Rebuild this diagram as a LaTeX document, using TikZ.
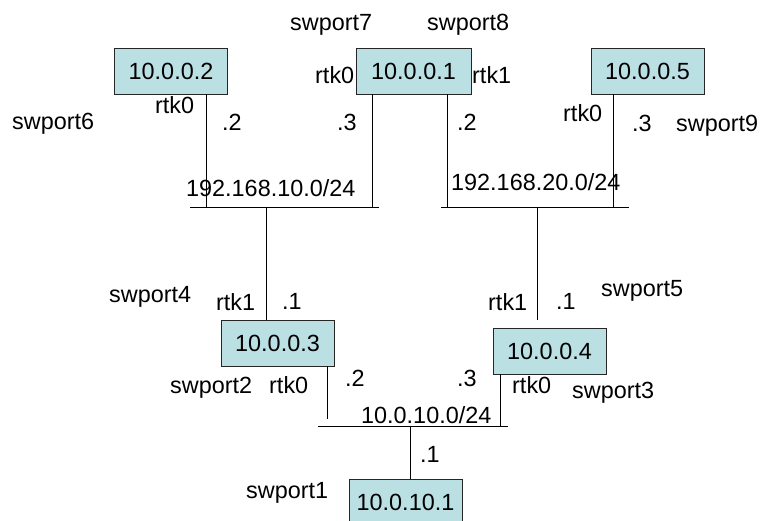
\documentclass[tikz,border=0pt]{standalone}
\usepackage{fontspec}
\setmainfont{Liberation Sans}
\begin{document}
\begin{tikzpicture}[x=1pt,y=-1pt,
  lbl/.style={anchor=base west,inner sep=0pt},
  hostbox/.style={draw=black!85,line width=0.9pt,fill=hostfill,inner sep=0pt,
    minimum width=113pt,minimum height=46pt},
  wire/.style={line width=0.9pt,black}]
\definecolor{hostfill}{RGB}{187,224,227}
\useasboundingbox (0,0) rectangle (763,521);
\clip (0,0) rectangle (763,521);
\fontsize{23.4}{28}\selectfont

% bus coordinates
\coordinate (busAL) at (190,207);
\coordinate (busAR) at (379,207);
\coordinate (busBL) at (441,207);
\coordinate (busBR) at (629,207);
\coordinate (busCL) at (318,426);
\coordinate (busCR) at (508,426);
% attachment x positions
\coordinate (xa) at (206,0);
\coordinate (xb) at (372,0);
\coordinate (xc) at (266,0);
\coordinate (xd) at (447,0);
\coordinate (xe) at (613,0);
\coordinate (xf) at (537,0);
\coordinate (xg) at (327,0);
\coordinate (xh) at (500,0);
\coordinate (xi) at (410,0);
\coordinate (stubB) at (537,320);
\coordinate (stubC) at (327,419);

% hosts
\node[hostbox] (h2) at (171,71) {10.0.0.2};
\node[hostbox,minimum width=115pt] (h1) at (413.5,71) {10.0.0.1};
\node[hostbox] (h5) at (647.5,71) {10.0.0.5};
\node[hostbox] (h3) at (277.5,343) {10.0.0.3};
\node[hostbox] (h4) at (549.5,351) {10.0.0.4};
\node[hostbox] (h10) at (405.5,502) {10.0.10.1};

% buses
\draw[wire] (busAL) -- (busAR);
\draw[wire] (busBL) -- (busBR);
\draw[wire] (busCL) -- (busCR);

% links
\draw[wire] (h2.south -| xa) -- (xa |- busAL);
\draw[wire] (h1.south -| xb) -- (xb |- busAL);
\draw[wire] (xc |- busAL) -- (h3.north -| xc);
\draw[wire] (h1.south -| xd) -- (xd |- busBL);
\draw[wire] (h5.south -| xe) -- (xe |- busBL);
\draw[wire] (xf |- busBL) -- (stubB);
\draw[wire] (h3.south -| xg) -- (stubC);
\draw[wire] (h4.south -| xh) -- (xh |- busCL);
\draw[wire] (xi |- busCL) -- (h10.north -| xi);

% labels
\node[lbl] (sw7) at (290,31) {swport7};
\node[lbl] (sw8) at (427,31) {swport8};
\node[lbl] (rA) at (315,84) {rtk0};
\node[lbl] (rB) at (472,84) {rtk1};
\node[lbl] (rC) at (155,114) {rtk0};
\node[lbl] (dA) at (222,131) {.2};
\node[lbl] (dB) at (337,131) {.3};
\node[lbl] (n1) at (186,197) {192.168.10.0/24};
\node[lbl] (dC) at (457,131) {.2};
\node[lbl] (rD) at (563,122) {rtk0};
\node[lbl] (dD) at (632,132) {.3};
\node[lbl] (sw9) at (676,132) {swport9};
\node[lbl] (n2) at (451,191) {192.168.20.0/24};
\node[lbl] (sw6) at (12,130) {swport6};
\node[lbl] (sw4) at (109,303) {swport4};
\node[lbl] (rE) at (216,311) {rtk1};
\node[lbl] (dE) at (282,310) {.1};
\node[lbl] (rF) at (488,311) {rtk1};
\node[lbl] (dF) at (556,310) {.1};
\node[lbl] (sw5) at (601,297) {swport5};
\node[lbl] (sw3) at (572,398) {swport3};
\node[lbl] (sw2) at (170,393) {swport2};
\node[lbl] (rG) at (269,393) {rtk0};
\node[lbl] (dG) at (345,386) {.2};
\node[lbl] (dH) at (457,386) {.3};
\node[lbl] (rH) at (512,393) {rtk0};
\node[lbl] (n3) at (361,423) {10.0.10.0/24};
\node[lbl] (dI) at (420,462) {.1};
\node[lbl] (sw1) at (246,498) {swport1};
\end{tikzpicture}
\end{document}
